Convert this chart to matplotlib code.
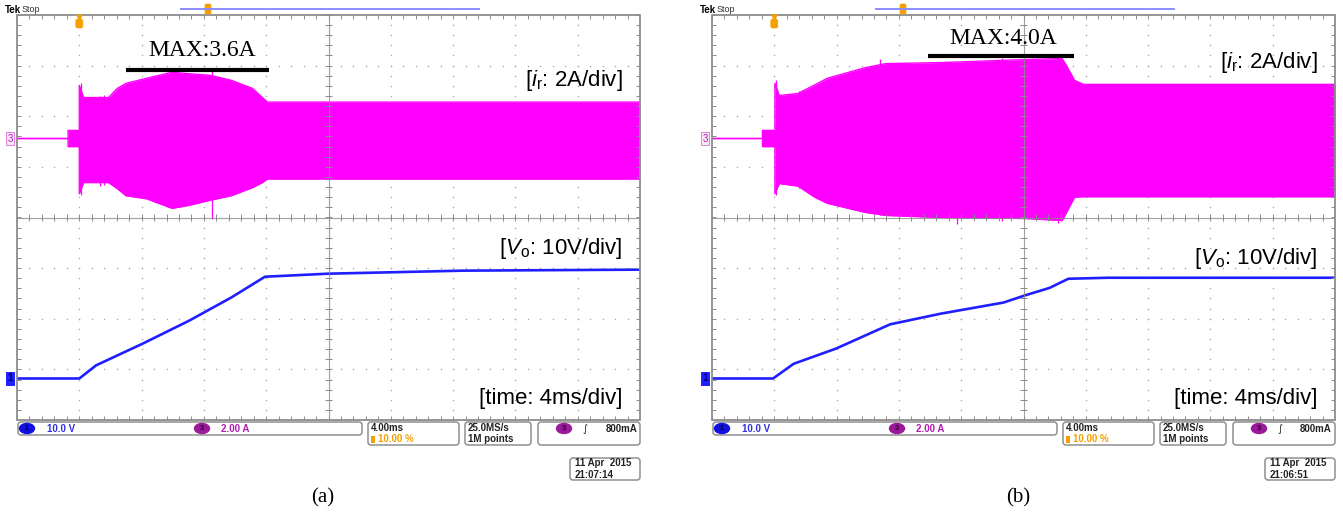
import numpy as np
import matplotlib
matplotlib.use('Agg')
import matplotlib.pyplot as plt
from matplotlib.patches import FancyBboxPatch, Rectangle, Ellipse

plt.rcParams['font.family'] = ['Liberation Sans', 'DejaVu Sans']
plt.rcParams['mathtext.fontset'] = 'custom'
plt.rcParams['mathtext.rm'] = 'Liberation Sans'
plt.rcParams['mathtext.it'] = 'Liberation Sans:italic'

# values read off the two scope shots, in screen divisions
# x: 0..10 div (4 ms/div), y: -4..4 div measured from the screen centre

# (a) resonant current i_r envelope (ch3, 2 A/div)
ir_a_x = [0, 0.82, 0.82, 1.0, 1.0, 1.07, 1.47, 1.61, 1.75, 2.08, 2.49, 2.76, 3.10, 3.44, 3.78, 3.94, 4.02, 10]
ir_a_top = [1.56, 1.56, 1.72, 1.72, 2.61, 2.37, 2.37, 2.55, 2.65, 2.75, 2.87, 2.84, 2.81, 2.71, 2.55, 2.37, 2.28, 2.28]
ir_a_bot = [1.56, 1.56, 1.40, 1.40, 0.47, 0.69, 0.69, 0.57, 0.43, 0.37, 0.18, 0.24, 0.34, 0.43, 0.59, 0.69, 0.76, 0.76]
spike_a_x = [1.02, 1.34, 1.40, 3.13]
spike_a_lo = [0.45, 0.62, 0.64, -0.02]
spike_a_hi = [2.66, 2.40, 2.42, 2.94]

# (a) output voltage V_o (ch1, 10 V/div)
vo_a_x = [0, 1.0, 1.27, 2.02, 2.76, 3.44, 3.98, 4.99, 7.16, 10]
vo_a_y = [-3.18, -3.18, -2.92, -2.49, -2.04, -1.58, -1.17, -1.11, -1.05, -1.03]

# (b) resonant current i_r envelope
ir_b_x = [0, 0.81, 0.81, 1.01, 1.01, 1.08, 1.38, 1.65, 1.85, 2.46, 2.79, 3.67, 5.02, 5.62, 5.69, 5.82, 5.96, 10]
ir_b_top = [1.56, 1.56, 1.72, 1.72, 2.65, 2.41, 2.45, 2.62, 2.75, 2.96, 3.04, 3.06, 3.12, 3.14, 3.00, 2.71, 2.63, 2.63]
ir_b_bot = [1.56, 1.56, 1.40, 1.40, 0.47, 0.67, 0.62, 0.40, 0.28, 0.10, 0.04, 0.00, -0.02, -0.06, 0.10, 0.40, 0.41, 0.41]
spike_b_x = [1.02, 1.40, 1.45, 2.70, 3.94, 4.65, 5.55]
spike_b_lo = [0.45, 0.58, 0.60, 0.04, -0.12, -0.06, -0.10]
spike_b_hi = [2.72, 2.50, 2.52, 3.14, 3.06, 3.16, 3.17]

# (b) output voltage V_o
vo_b_x = [0, 0.98, 1.31, 1.99, 2.86, 3.67, 4.68, 5.02, 5.42, 5.72, 6.36, 10]
vo_b_y = [-3.18, -3.18, -2.89, -2.59, -2.11, -1.90, -1.68, -1.54, -1.39, -1.21, -1.19, -1.19]

max_labels = ['MAX:3.6A', 'MAX:4.0A']
timestamps = ['21:07:14', '21:06:51']
panel_labels = ['(a)', '(b)']

MAGENTA = '#ff00ff'
BLUE = '#1f1fff'
PURPLE = '#b01cb0'
ORANGE = '#f5a000'
GRID = '#a8a8a8'

W, H = 1343, 516
SCR_W, SCR_TOP, SCR_BOT = 623, 15, 420

fig = plt.figure(figsize=(W / 100, H / 100), dpi=100)


def draw_screen(ax):
    ax.set_xlim(0, 10)
    ax.set_ylim(-4, 4)
    ax.axis('off')
    sx = np.arange(0, 10.001, 0.2)
    sy = np.arange(-4, 4.001, 0.2)
    for gx in range(1, 10):
        if gx != 5:
            ax.scatter(np.full(len(sy), gx), sy, s=1.2, c=GRID, lw=0, zorder=1)
    for gy in range(-3, 4):
        if gy != 0:
            ax.scatter(sx, np.full(len(sx), gy), s=1.2, c=GRID, lw=0, zorder=1)
    # centre cross with minor ticks, drawn over the traces like the scope does
    ax.axvline(5, color='#8a8a8a', lw=0.8, alpha=0.8, zorder=4)
    ax.axhline(0, color='#8a8a8a', lw=0.8, alpha=0.8, zorder=4)
    ax.vlines(sx, -0.07, 0.07, color='#8a8a8a', lw=0.7, zorder=4)
    ax.hlines(sy, 4.94, 5.06, color='#8a8a8a', lw=0.7, zorder=4)
    # border ticks
    ax.vlines(sx, 3.93, 4, color='#8a8a8a', lw=0.7, zorder=4)
    ax.vlines(sx, -4, -3.93, color='#8a8a8a', lw=0.7, zorder=4)
    ax.hlines(sy, 0, 0.06, color='#8a8a8a', lw=0.7, zorder=4)
    ax.hlines(sy, 9.94, 10, color='#8a8a8a', lw=0.7, zorder=4)
    ax.add_patch(Rectangle((0, -4), 10, 8, fill=False, ec='#8c8c8c', lw=1.3,
                           clip_on=False, zorder=5))


def draw_traces(ax, ix, itop, ibot, spx, splo, sphi, vx, vy):
    ax.fill_between(ix, ibot, itop, color=MAGENTA, lw=0, zorder=2)
    ax.plot(ix, itop, color=MAGENTA, lw=1, zorder=2)
    ax.plot(ix, ibot, color=MAGENTA, lw=1, zorder=2)
    ax.vlines(spx, splo, sphi, color=MAGENTA, lw=0.9, zorder=2)
    ax.plot(vx, vy, color=BLUE, lw=1.9, zorder=3)


screens = [
    dict(left=17, ix=ir_a_x, itop=ir_a_top, ibot=ir_a_bot, spx=spike_a_x, splo=spike_a_lo,
         sphi=spike_a_hi, vx=vo_a_x, vy=vo_a_y, max_x=2.97, max_y=3.30, bar=(1.75, 4.05, 2.92),
         ir_y=2.70, vo_y=-0.62),
    dict(left=712, ix=ir_b_x, itop=ir_b_top, ibot=ir_b_bot, spx=spike_b_x, splo=spike_b_lo,
         sphi=spike_b_hi, vx=vo_b_x, vy=vo_b_y, max_x=4.68, max_y=3.54, bar=(3.47, 5.81, 3.20),
         ir_y=3.06, vo_y=-0.81),
]

over = fig.add_axes([0, 0, 1, 1], zorder=10)
over.set_xlim(0, W)
over.set_ylim(H, 0)
over.axis('off')
over.patch.set_alpha(0)


def box(x0, y0, x1, y1):
    over.add_patch(FancyBboxPatch((x0, y0), x1 - x0, y1 - y0,
                                  boxstyle='round,pad=0,rounding_size=3',
                                  fc='white', ec='#8f8f8f', lw=1.1))


def chan_dot(x, y, label, fc, tc):
    over.add_patch(Ellipse((x, y), 15, 10, fc=fc, ec=fc))
    over.text(x, y + 0.3, label, fontsize=5.5, weight='bold', color=tc, ha='center',
              va='center')


for i, s in enumerate(screens):
    L = s['left']
    ax = fig.add_axes([L / W, (H - SCR_BOT) / H, SCR_W / W, (SCR_BOT - SCR_TOP) / H])
    draw_screen(ax)
    draw_traces(ax, s['ix'], s['itop'], s['ibot'], s['spx'], s['splo'], s['sphi'],
                s['vx'], s['vy'])

    ax.text(s['max_x'], s['max_y'], max_labels[i], family='Liberation Serif', fontsize=17,
            ha='center', va='center', zorder=6)
    b0, b1, by = s['bar']
    ax.plot([b0, b1], [by, by], color='black', lw=3, solid_capstyle='butt', zorder=6)
    ax.text(9.72, s['ir_y'], r'[$\mathit{i}_\mathrm{r}$: 2A/div]', fontsize=16,
            ha='right', va='center', zorder=6)
    ax.text(9.72, s['vo_y'], r'[$\mathit{V}_\mathrm{o}$: 10V/div]', fontsize=16,
            ha='right', va='center', zorder=6)
    ax.text(9.72, -3.58, '[time: 4ms/div]', fontsize=16, ha='right', va='center', zorder=6)

    # header: Tek Stop, record bar, trigger marker
    over.text(L - 12, 10, 'Tek', fontsize=7, weight='bold', va='center', ha='left')
    over.text(L + 5, 10, 'Stop', fontsize=6.5, va='center', ha='left', color='#333333')
    over.plot([L + 164, L + 462], [9, 9], color='#8c8cff', lw=1.4)
    over.add_patch(FancyBboxPatch((L + 188, 4), 6, 10, boxstyle='round,pad=0,rounding_size=1.5',
                                  fc=ORANGE, ec=ORANGE, lw=0.5))
    tx = L + SCR_W / 10
    over.plot([tx], [17], marker='v', color=ORANGE, ms=3.5)
    over.add_patch(FancyBboxPatch((tx - 3.5, 19), 7, 9, boxstyle='round,pad=0,rounding_size=2',
                                  fc=ORANGE, ec=ORANGE, lw=0.5))

    # channel markers on the left edge
    y3 = SCR_TOP + (4 - 1.56) / 8 * (SCR_BOT - SCR_TOP)
    y1 = SCR_TOP + (4 + 3.18) / 8 * (SCR_BOT - SCR_TOP)
    over.text(L - 7, y3, '3', fontsize=7, color=PURPLE, ha='center', va='center',
              bbox=dict(boxstyle='square,pad=0.12', fc='#fbe6fb', ec='#e080e0', lw=0.7))
    over.text(L - 7, y1, '1', fontsize=7, color='#00007a', ha='center', va='center',
              weight='bold', bbox=dict(boxstyle='square,pad=0.12', fc=BLUE, ec=BLUE, lw=0.7))

    # status bar
    box(L + 1, 422, L + 345, 435)
    box(L + 351, 422, L + 442, 445)
    box(L + 448, 422, L + 514, 445)
    box(L + 521, 422, L + 623, 445)
    box(L + 553, 458, L + 623, 480)

    chan_dot(L + 10, 428.5, '1', '#1010e0', '#00005a')
    over.text(L + 30, 428.5, '10.0 V', fontsize=7, weight='bold', color='#3030e0', va='center')
    chan_dot(L + 185, 428.5, '3', '#9a1a9a', '#3a003a')
    over.text(L + 204, 428.5, '2.00 A', fontsize=7, weight='bold', color=PURPLE, va='center')

    over.text(L + 354, 428, '4.00ms', fontsize=7, weight='bold', color='#222222', va='center')
    over.add_patch(Rectangle((L + 354, 435.5), 4, 7, fc=ORANGE, ec='none'))
    over.text(L + 361, 439.5, '10.00 %', fontsize=7, weight='bold', color=ORANGE, va='center')
    over.text(L + 451, 428, '25.0MS/s', fontsize=7, weight='bold', color='#222222', va='center')
    over.text(L + 451, 439.5, '1M points', fontsize=7, weight='bold', color='#222222',
              va='center')

    chan_dot(L + 547, 428.5, '3', '#9a1a9a', '#3a003a')
    over.text(L + 568, 428.5, '\u222b', fontsize=7, color='#222222', va='center', ha='center',
              family='DejaVu Sans')
    over.text(L + 620, 428.5, '800mA', fontsize=7, weight='bold', color='#222222',
              va='center', ha='right')

    over.text(L + 558, 463.5, '11 Apr  2015', fontsize=7, weight='bold', color='#222222',
              va='center')
    over.text(L + 558, 475, timestamps[i], fontsize=7, weight='bold', color='#222222',
              va='center')

    over.text(L + 306, 498, panel_labels[i], family='Liberation Serif', fontsize=15,
              ha='center', va='center')

fig.savefig('out.png', dpi=100)
